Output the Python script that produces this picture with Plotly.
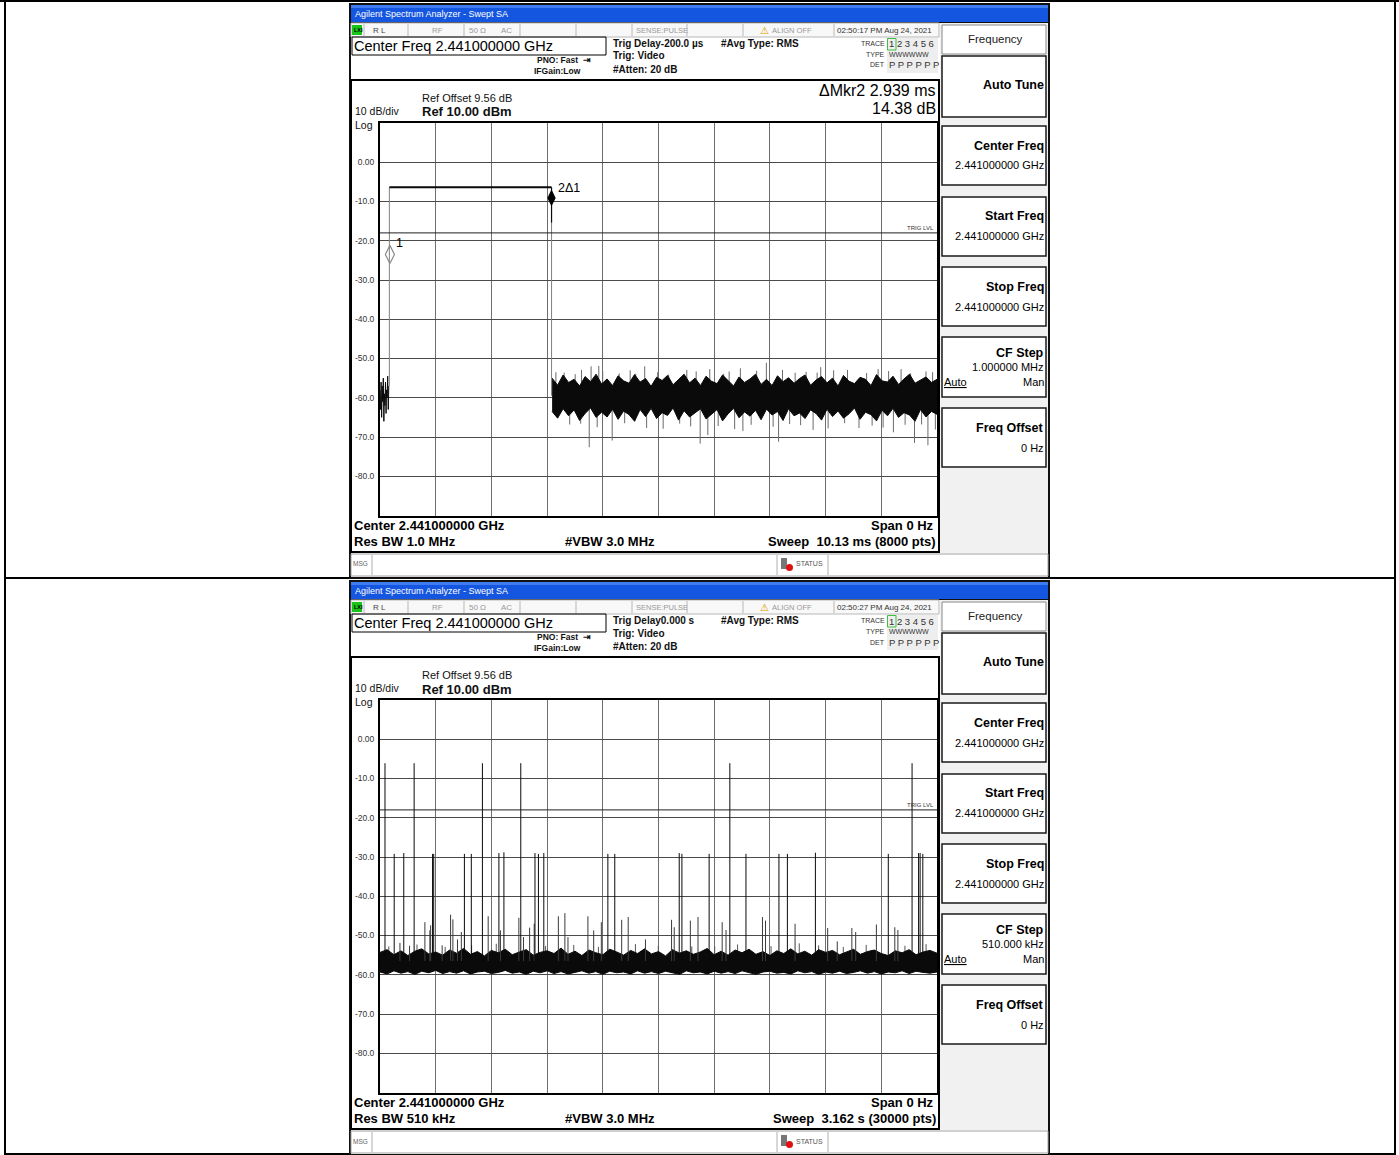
import plotly.graph_objects as go

W, H = 1399, 1155
FONT = "Liberation Sans, Arial, sans-serif"

# ---------------- data ----------------
y_tick_vals = [10, 0, -10, -20, -30, -40, -50, -60, -70, -80, -90]
y_tick_text = ["", "0.00", "-10.0", "-20.0", "-30.0", "-40.0", "-50.0", "-60.0", "-70.0", "-80.0", ""]
trig_level_dbm = -18.0
n_xdiv = 10

# Screen 1 : burst, 10.13 ms sweep
s1_sweep_ms = 10.13
s1_pre_t = [0.00, 0.01, 0.02, 0.03, 0.04, 0.05, 0.06, 0.07, 0.08, 0.09, 0.10, 0.11, 0.12, 0.13, 0.14, 0.15, 0.16]
s1_pre_v = [-58, -63, -56, -65, -57, -61, -55, -66, -59, -62, -56, -64, -58, -60, -54.5, -63, -57]
s1_burst_on_ms = 0.17
s1_burst_off_ms = 3.12
s1_burst_dbm = -6.4
s1_fall_knee_dbm = -15.4
s1_noise_mid_dbm = -59.5
s1_env_t = [3.13, 3.23, 3.33, 3.43, 3.53, 3.63, 3.73, 3.83, 3.93, 4.03,
            4.13, 4.23, 4.33, 4.43, 4.53, 4.63, 4.73, 4.83, 4.93, 5.03,
            5.13, 5.23, 5.33, 5.43, 5.53, 5.63, 5.73, 5.83, 5.93, 6.03,
            6.13, 6.23, 6.33, 6.43, 6.53, 6.63, 6.73, 6.83, 6.93, 7.03,
            7.13, 7.23, 7.33, 7.43, 7.53, 7.63, 7.73, 7.83, 7.93, 8.03,
            8.13, 8.23, 8.33, 8.43, 8.53, 8.63, 8.73, 8.83, 8.93, 9.03,
            9.13, 9.23, 9.33, 9.43, 9.53, 9.63, 9.73, 9.83, 9.93, 10.03,
            10.13]
s1_env_hi = [-55.0, -56.8, -54.2, -56.1, -55.3, -57.0, -54.6, -55.9, -54.0, -56.5,
             -55.2, -56.9, -54.4, -55.7, -56.3, -54.1, -56.0, -55.1, -57.1, -54.8,
             -55.6, -54.3, -56.7, -55.4, -54.0, -56.2, -55.0, -56.9, -54.5, -55.8,
             -56.4, -54.2, -55.5, -57.0, -54.7, -56.1, -55.2, -54.0, -56.6, -55.3,
             -56.9, -54.4, -55.9, -54.9, -56.3, -55.1, -54.2, -56.8, -55.5, -54.6,
             -56.2, -55.0, -57.0, -54.3, -55.8, -56.4, -54.8, -55.3, -56.9, -54.1,
             -55.7, -56.0, -54.5, -56.6, -55.2, -54.0, -56.3, -55.4, -54.7, -56.1,
             -55.3]
s1_env_lo = [-63.5, -65.2, -62.8, -64.6, -63.1, -65.8, -64.0, -62.6, -65.0, -63.7,
             -64.9, -62.9, -65.5, -63.4, -64.3, -66.0, -63.0, -64.8, -62.7, -65.3,
             -63.8, -64.5, -62.6, -65.7, -63.3, -64.9, -63.9, -62.8, -65.4, -64.2,
             -63.0, -65.9, -64.1, -62.7, -65.1, -63.6, -64.7, -63.2, -65.6, -62.9,
             -64.4, -63.5, -65.8, -62.8, -64.6, -63.9, -65.3, -63.1, -64.0, -65.7,
             -62.9, -64.8, -63.4, -65.2, -64.1, -62.6, -65.5, -63.7, -64.3, -65.9,
             -63.2, -64.6, -62.7, -65.0, -63.8, -64.4, -66.0, -63.0, -64.9, -63.5,
             -64.2]
s1_peak_t = [3.199, 3.665, 3.839, 3.979, 4.814, 5.580, 5.997, 6.554, 7.027, 7.320, 8.015, 8.502, 9.059, 9.477, 9.930,
             3.35, 3.55, 4.05, 4.35, 4.55, 5.05, 5.25, 5.75, 6.25, 6.85, 7.55, 7.75, 8.25, 8.85, 9.25, 9.65, 10.05,
             4.65, 6.35, 7.95,
             3.805, 4.223, 4.849, 5.823, 5.962, 6.600, 7.249, 7.877, 8.711, 9.337, 9.721, 9.965,
             3.45, 3.95, 4.45, 5.15, 5.45, 6.15, 6.45, 6.75, 7.15, 7.45, 8.15, 8.45, 8.95, 9.15, 9.55, 10.10,
             5.65, 3.65, 7.65, 9.85]
s1_peak_v = [-53.5, -52.9, -52.0, -51.9, -52.0, -52.9, -52.7, -52.5, -51.1, -52.9, -52.2, -52.9, -52.7, -52.7, -53.3,
             -53.6, -54.0, -53.2, -53.8, -53.0, -53.5, -54.1, -53.3, -53.9, -53.1, -53.6, -53.4, -53.0, -53.7, -53.2,
             -53.8, -53.5, -53.9, -53.3, -53.6,
             -72.6, -70.9, -67.7, -71.7, -69.5, -68.5, -71.2, -68.2, -67.7, -68.8, -71.5, -72.1,
             -66.8, -67.5, -66.5, -67.9, -66.6, -67.2, -68.0, -66.9, -67.4, -66.7, -67.8, -66.5, -67.1, -67.6,
             -66.9, -68.1, -67.3, -66.6, -67.0, -66.8]
s1_mkr_t = [0.18, 3.119]
s1_mkr_v = [-23.5, -9.1]
s1_mkr_labels = ["1", "2\u03941"]

# Screen 2 : pulse train, 3.162 s sweep
s2_sweep_s = 3.162
s2_floor_dbm = -56.5
s2_tall_t = [0.0283, 0.1938, 0.5814, 0.7992, 1.9860, 3.0205]
s2_tall_v = [-6.1, -6.1, -6.1, -6.1, -6.1, -6.1]
s2_mid_t = [0.0806, 0.1350, 0.2983, 0.3049, 0.4791, 0.5183, 0.6751, 0.7034, 0.8798, 0.8994, 0.9299, 1.2936,
            1.3328, 1.6986, 1.7139, 1.8685, 2.0775, 2.2648, 2.3127, 2.4717, 2.8855, 3.0575, 3.0662, 3.0814]
s2_mid_v = [-29.2, -29.0, -29.2, -29.2, -29.2, -29.2, -29.0, -28.8, -29.0, -29.2, -29.0, -29.2,
            -29.2, -29.0, -29.2, -29.2, -29.2, -29.2, -29.2, -28.9, -29.2, -29.0, -29.0, -29.2]
s2_small_t = [0.2548, 0.2831, 0.2875, 0.4007, 0.4138, 0.4399, 0.4617, 0.6141, 0.6838, 0.7883, 0.8145, 0.8493,
              0.8754, 1.0126, 1.0496, 1.0671, 1.1803, 1.2130, 1.2565, 1.3720, 1.4090, 1.5070, 1.6551, 1.6703,
              1.7618, 1.8053, 1.9425, 1.9643, 2.1712, 2.1886, 2.3563, 2.5414, 2.6786, 2.7004, 2.8179, 2.9225,
              2.9399, 0.1132, 0.1677, 0.3528, 2.5958]
s2_small_v = [-46.6, -48.7, -47.4, -44.7, -45.9, -51.0, -49.1, -45.1, -48.7, -45.5, -50.4, -48.0,
              -47.0, -45.1, -44.3, -50.4, -45.1, -48.7, -46.6, -46.0, -45.3, -51.0, -46.0, -47.9,
              -46.2, -45.3, -46.6, -48.6, -45.3, -46.2, -47.0, -48.1, -48.1, -49.1, -47.2, -47.9,
              -48.6, -51.9, -52.6, -52.5, -51.5]
s2_grass_t = [0.05, 0.21, 0.37, 0.52, 0.66, 0.94, 1.10, 1.24, 1.45, 1.58, 1.77, 2.03, 2.22, 2.38, 2.49, 2.63,
              2.76, 2.98, 3.10, 1.90]
s2_grass_v = [-52.8, -52.3, -52.9, -52.5, -52.1, -52.7, -52.4, -52.9, -52.2, -52.6, -52.8, -52.3, -52.7, -52.0,
              -52.5, -52.9, -52.4, -52.6, -52.2, -52.8]
s2_env_t = [0.000, 0.040, 0.079, 0.119, 0.158, 0.198, 0.237, 0.277, 0.316, 0.356,
            0.395, 0.435, 0.474, 0.514, 0.553, 0.593, 0.632, 0.672, 0.711, 0.751,
            0.791, 0.830, 0.870, 0.909, 0.949, 0.988, 1.028, 1.067, 1.107, 1.146,
            1.186, 1.225, 1.265, 1.304, 1.344, 1.383, 1.423, 1.462, 1.502, 1.541,
            1.581, 1.621, 1.660, 1.700, 1.739, 1.779, 1.818, 1.858, 1.897, 1.937,
            1.976, 2.016, 2.055, 2.095, 2.134, 2.174, 2.213, 2.253, 2.292, 2.332,
            2.372, 2.411, 2.451, 2.490, 2.530, 2.569, 2.609, 2.648, 2.688, 2.727,
            2.767, 2.806, 2.846, 2.885, 2.925, 2.964, 3.004, 3.043, 3.083, 3.122,
            3.162]
s2_env_hi = [-54.3, -53.6, -54.9, -53.9, -55.1, -54.0, -53.4, -54.7, -54.2, -55.0,
             -53.7, -54.5, -53.3, -54.8, -54.1, -55.2, -53.8, -54.4, -53.5, -54.9,
             -54.2, -53.6, -55.0, -54.3, -53.9, -54.6, -53.2, -54.8, -54.0, -55.1,
             -53.7, -54.4, -54.9, -53.5, -54.2, -55.0, -53.8, -54.6, -53.4, -54.7,
             -54.1, -55.2, -53.6, -54.5, -53.9, -54.8, -54.2, -53.3, -54.9, -54.0,
             -55.0, -53.7, -54.4, -53.5, -54.8, -54.1, -55.1, -53.9, -54.6, -53.4,
             -54.7, -54.0, -55.0, -53.6, -54.3, -53.8, -54.9, -54.2, -53.5, -54.8,
             -54.1, -53.7, -54.6, -55.1, -53.9, -54.4, -53.6, -54.9, -54.2, -53.8,
             -54.5]
s2_env_lo = [-59.3, -59.8, -59.0, -59.6, -59.2, -59.9, -59.1, -59.5, -58.9, -59.7,
             -59.2, -59.6, -59.0, -59.8, -59.3, -59.1, -59.7, -59.4, -58.9, -59.6,
             -59.3, -59.9, -59.1, -59.5, -59.0, -59.7, -59.2, -59.8, -59.4, -59.0,
             -59.6, -59.2, -59.9, -59.1, -59.5, -59.3, -59.8, -59.0, -59.6, -59.2,
             -59.7, -59.1, -59.4, -59.9, -59.0, -59.5, -59.3, -59.8, -59.1, -59.6,
             -59.2, -59.7, -59.0, -59.5, -59.9, -59.3, -59.1, -59.6, -59.4, -59.8,
             -59.0, -59.5, -59.2, -59.9, -59.3, -59.6, -59.1, -59.7, -59.4, -59.0,
             -59.6, -59.2, -59.8, -59.3, -59.5, -59.0, -59.7, -59.1, -59.4, -59.6,
             -59.3]

screens = [
    dict(oy=0, clock="02:50:17 PM Aug 24, 2021", trig="Trig Delay-200.0 \u00b5s",
         mkr=["\u0394Mkr2 2.939 ms", "14.38 dB"], rbw="Res BW 1.0 MHz",
         sweep="Sweep\u00a0\u00a010.13 ms (8000 pts)", cfstep="1.000000 MHz"),
    dict(oy=577, clock="02:50:27 PM Aug 24, 2021", trig="Trig Delay0.000 s",
         mkr=None, rbw="Res BW 510 kHz",
         sweep="Sweep\u00a0\u00a03.162 s (30000 pts)", cfstep="510.000 kHz"),
]

# ---------------- helpers ----------------
shapes, annos = [], []


def X(px):
    return px / W


def Y(py):
    return 1 - py / H


def rect(x0, y0, x1, y1, fill=None, line=None, lw=1, layer="below"):
    shapes.append(dict(type="rect", xref="paper", yref="paper", x0=X(x0), x1=X(x1), y0=Y(y1), y1=Y(y0),
                       fillcolor=fill or "rgba(0,0,0,0)",
                       line=dict(color=line or "rgba(0,0,0,0)", width=lw if line else 0), layer=layer))


def seg(x0, y0, x1, y1, color="black", lw=1, layer="below"):
    shapes.append(dict(type="line", xref="paper", yref="paper", x0=X(x0), x1=X(x1), y0=Y(y0), y1=Y(y1),
                       line=dict(color=color, width=lw), layer=layer))


def txt(x, y, s, size, color="black", bold=False, anchor="left"):
    annos.append(dict(x=X(x), y=Y(y), xref="paper", yref="paper", text=("<b>%s</b>" % s) if bold else s,
                      showarrow=False, xanchor=anchor, yanchor="middle", borderpad=0,
                      font=dict(size=size, color=color, family=FONT)))


# ---------------- table frame ----------------
seg(5, 0, 5, H, "black", 2)
seg(1395, 0, 1395, H, "black", 2)
seg(0, 1, W, 1, "black", 2)
seg(5, 578, 1395, 578, "black", 2)
seg(5, 1154, 1395, 1154, "black", 2)


def draw_screen(s):
    oy = s["oy"]
    rect(349, oy + 3, 1050, oy + 579, fill="#101010")
    rect(351, oy + 5, 1048, oy + 22, fill="#1556e0")
    rect(351, oy + 5, 1048, oy + 8, fill="#3f7cf0")
    txt(354, oy + 14, "Agilent Spectrum Analyzer - Swept SA", 9, "white")
    rect(351, oy + 23, 1048, oy + 577, fill="white")
    # status row
    rect(351, oy + 23, 939, oy + 37, fill="#f8f8f8", line="#b8b8b8")
    for sx in [364, 408, 464, 520, 576, 632, 687, 743, 834]:
        seg(sx, oy + 24, sx, oy + 36, "#b8b8b8", 1)
    rect(352, oy + 25, 362, oy + 35, fill="#19c419")
    txt(352.5, oy + 30, "<b>LXI</b>", 5.5, "black")
    txt(372, oy + 30, "R L", 8, "#444")
    txt(431, oy + 30, "RF", 8, "#999")
    txt(468, oy + 30, "50 \u03a9", 8, "#999")
    txt(500, oy + 30, "AC", 8, "#999")
    txt(635, oy + 30, "SENSE:PULSE", 7.5, "#999")
    txt(759, oy + 30, "\u26a0", 10, "#d9a400")
    txt(771, oy + 30, "ALIGN OFF", 7.5, "#999")
    txt(836, oy + 30, s["clock"], 8, "#333")
    # top info
    rect(352, oy + 37, 606, oy + 55, line="black", lw=1)
    txt(353, oy + 46, "Center Freq 2.441000000 GHz", 14.5, "black")
    txt(536, oy + 60, "PNO: Fast \u00a0\u21e5", 8.5, "#111", bold=True)
    txt(533, oy + 71, "IFGain:Low", 8.5, "#111", bold=True)
    txt(612, oy + 43, s["trig"], 10, "#111", bold=True)
    txt(612, oy + 56, "Trig: Video", 10, "#111", bold=True)
    txt(612, oy + 69, "#Atten: 20 dB", 10, "#111", bold=True)
    txt(720, oy + 43, "#Avg Type: RMS", 10, "#111", bold=True)
    rect(887, oy + 38, 938, oy + 73, fill="#eeeeee")
    rect(887.5, oy + 38.5, 896, oy + 50, line="#3fbf3f", lw=1)
    txt(886, oy + 43, "TRACE", 7, "#333", anchor="right")
    txt(886, oy + 54, "TYPE", 7, "#333", anchor="right")
    txt(886, oy + 65, "DET", 7, "#333", anchor="right")
    txt(888, oy + 44, "1 2 3 4 5 6", 9.5, "#333")
    txt(888, oy + 54, "WWWWWW", 7, "#333")
    txt(888, oy + 65, "P P P P P P", 9.5, "#333")
    # lower panel
    rect(351, oy + 80, 939, oy + 552, line="black", lw=2)
    txt(421, oy + 98, "Ref Offset 9.56 dB", 11, "#111")
    txt(421, oy + 112, "Ref 10.00 dBm", 13, "#111", bold=True)
    annos.append(dict(x=X(354), y=Y(oy + 104), xref="paper", yref="paper", text="10 dB/div<br>Log",
                      showarrow=False, xanchor="left", yanchor="top", align="left", borderpad=0,
                      font=dict(size=10.5, color="#111", family=FONT)))
    if s["mkr"]:
        txt(937, oy + 91, s["mkr"][0], 16, "black", anchor="right")
        txt(937, oy + 108, s["mkr"][1], 16, "black", anchor="right")
    txt(935, oy + 227.5, "TRIG LVL", 6, "#333", anchor="right")
    txt(353, oy + 525, "Center 2.441000000 GHz", 13, "black", bold=True)
    txt(935, oy + 525, "Span 0 Hz", 13, "black", bold=True, anchor="right")
    txt(353, oy + 541, s["rbw"], 13, "black", bold=True)
    txt(564, oy + 541, "#VBW 3.0 MHz", 13, "black", bold=True)
    txt(937, oy + 541, s["sweep"], 13, "black", bold=True, anchor="right")
    # msg bar
    rect(351, oy + 554, 1048, oy + 576, fill="white", line="#a0a0a0")
    for sx in [372, 777, 828]:
        seg(sx, oy + 555, sx, oy + 575, "#b0b0b0", 1)
    txt(352, oy + 564, "MSG", 6.5, "#666")
    rect(781, oy + 558, 787, oy + 569, fill="#777")
    shapes.append(dict(type="circle", xref="paper", yref="paper", x0=X(786), x1=X(793), y0=Y(oy + 571),
                       y1=Y(oy + 564), fillcolor="#e01010", line=dict(width=0), layer="below"))
    txt(795, oy + 564, "STATUS", 7, "#555")
    # side panel
    rect(940, oy + 23, 1048, oy + 553, fill="#f1f1f1")
    rect(942, oy + 25, 1046, oy + 54, fill="white", line="#888", lw=1)
    txt(995, oy + 39, "Frequency", 11.5, "#222", anchor="center")
    boxes = [(56, 117), (126, 185), (197, 256), (267, 326), (337, 397), (408, 467)]
    for (b0, b1) in boxes:
        rect(942, oy + b0, 1046, oy + b1, fill="white", line="#1a1a1a", lw=1.5)
    txt(1045, oy + 85, "Auto Tune", 12.5, "black", bold=True, anchor="right")
    for (ty, title) in [(146, "Center Freq"), (216, "Start Freq"), (287, "Stop Freq")]:
        txt(1045, oy + ty, title, 12.5, "black", bold=True, anchor="right")
        txt(1045, oy + ty + 19.5, "2.441000000 GHz", 11, "black", anchor="right")
    txt(1045, oy + 353, "CF Step", 12.5, "black", bold=True, anchor="right")
    txt(1045, oy + 367, s["cfstep"], 11, "black", anchor="right")
    txt(943, oy + 382, "<u>Auto</u>", 11, "black")
    txt(1045, oy + 382, "Man", 11, "black", anchor="right")
    txt(1045, oy + 428, "Freq Offset", 12.5, "black", bold=True, anchor="right")
    txt(1045, oy + 448, "0 Hz", 11, "black", anchor="right")


for s in screens:
    draw_screen(s)

# ---------------- traces ----------------
fig = go.Figure()
BLK = "#0a0a0a"


def add(x, y, ax, color=BLK, width=1, **kw):
    fig.add_trace(go.Scatter(x=x, y=y, mode="lines", line=dict(color=color, width=width),
                             xaxis="x" + ax, yaxis="y" + ax, hoverinfo="skip", showlegend=False, **kw))


def spikes(tl, vl, base, ax, color, width=1):
    px, py = [], []
    for t, v in zip(tl, vl):
        px += [t, t, None]
        py += [base, v, None]
    add(px, py, ax, color, width)


# screen 1
add(s1_pre_t, s1_pre_v, "")
add([s1_burst_on_ms, s1_burst_on_ms], [s1_pre_v[-1], s1_burst_dbm], "", "#808080")
add([s1_burst_on_ms, s1_burst_off_ms], [s1_burst_dbm, s1_burst_dbm], "", BLK, 2)
add([s1_burst_off_ms, s1_burst_off_ms], [s1_fall_knee_dbm, s1_noise_mid_dbm], "", "#808080")
add([s1_burst_off_ms, s1_burst_off_ms], [s1_burst_dbm, s1_fall_knee_dbm], "", BLK, 1.2)
spikes(s1_peak_t, s1_peak_v, s1_noise_mid_dbm, "", "#6a6a6a", 1)
add(s1_env_t + s1_env_t[::-1], s1_env_hi + s1_env_lo[::-1], "", BLK, 1, fill="toself", fillcolor=BLK)
fig.add_trace(go.Scatter(x=[s1_mkr_t[0]], y=[s1_mkr_v[0]], mode="markers", xaxis="x", yaxis="y",
                         marker=dict(symbol="diamond-tall-open", size=13, color="#8a8a8a", line=dict(width=1.2)),
                         hoverinfo="skip", showlegend=False))
fig.add_trace(go.Scatter(x=[s1_mkr_t[1]], y=[s1_mkr_v[1]], mode="markers", xaxis="x", yaxis="y",
                         marker=dict(symbol="diamond-tall", size=12, color="black"),
                         hoverinfo="skip", showlegend=False))
for t, v, lab in zip(s1_mkr_t, s1_mkr_v, s1_mkr_labels):
    annos.append(dict(x=t, y=v, xref="x", yref="y", text=lab, showarrow=False, xanchor="left", yanchor="bottom",
                      xshift=4, yshift=2 if lab == "1" else 1, font=dict(size=12.5, color="black", family=FONT)))

# screen 2
spikes(s2_grass_t, s2_grass_v, s2_floor_dbm, "2", "#555555", 1)
add(s2_env_t + s2_env_t[::-1], s2_env_hi + s2_env_lo[::-1], "2", BLK, 1, fill="toself", fillcolor=BLK)
spikes(s2_small_t, s2_small_v, s2_floor_dbm, "2", "#3a3a3a", 1)
spikes(s2_mid_t, s2_mid_v, s2_floor_dbm, "2", BLK, 1)
spikes(s2_tall_t, s2_tall_v, s2_floor_dbm, "2", BLK, 1)

# trig level lines
for ax in ["", "2"]:
    shapes.append(dict(type="line", xref=("x" + ax) + " domain", yref="y" + ax, x0=0, x1=1,
                       y0=trig_level_dbm, y1=trig_level_dbm, line=dict(color="#202020", width=1), layer="above"))

# ---------------- axes ----------------
PX0, PX1 = 380, 937
PY0, PY1 = 123, 515.5


def axes(oy, sweep):
    xa = dict(domain=[X(PX0), X(PX1)], range=[0, sweep], tickvals=[sweep * k / n_xdiv for k in range(n_xdiv + 1)],
              showticklabels=False, showgrid=True, gridcolor="#6e6e6e", gridwidth=1, zeroline=False,
              showline=True, mirror=True, linecolor="black", linewidth=2, ticks="", fixedrange=True)
    ya = dict(domain=[Y(PY1 + oy), Y(PY0 + oy)], range=[-90, 10], tickvals=y_tick_vals, ticktext=y_tick_text,
              showgrid=True, gridcolor="#4a4a4a", gridwidth=1, zeroline=False, showline=True, mirror=True,
              linecolor="black", linewidth=2, ticks="", ticklabelstandoff=2,
              tickfont=dict(size=8.5, color="#333", family=FONT), fixedrange=True)
    return xa, ya


xa1, ya1 = axes(0, s1_sweep_ms)
xa2, ya2 = axes(577, s2_sweep_s)
xa2["anchor"] = "y2"
ya2["anchor"] = "x2"

fig.update_layout(
    width=W, height=H, margin=dict(l=0, r=0, t=0, b=0), autosize=False,
    paper_bgcolor="white", plot_bgcolor="white", showlegend=False,
    xaxis=xa1, yaxis=ya1, xaxis2=xa2, yaxis2=ya2,
    shapes=shapes, annotations=annos,
)

fig.write_html("out.html", config={"displayModeBar": False, "staticPlot": True},
               post_script="document.body.style.margin='0';document.body.style.overflow='hidden';")
